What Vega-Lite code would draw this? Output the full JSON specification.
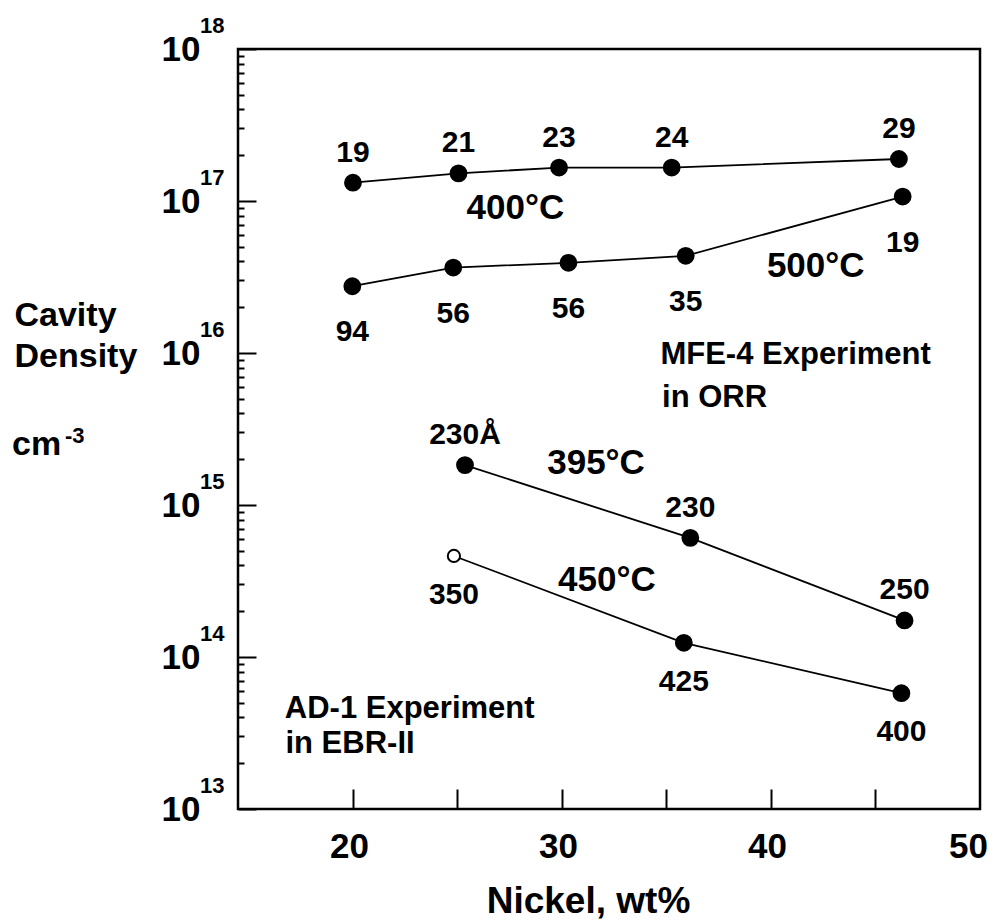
{
  "$schema": "https://vega.github.io/schema/vega-lite/v6.json",
  "width": 742,
  "height": 760,
  "autosize": {"type": "none"},
  "padding": {"left": 238, "top": 49, "right": 12, "bottom": 115},
  "background": "white",
  "config": {
    "view": {"stroke": "black", "strokeWidth": 2.5},
    "font": "Liberation Sans",
    "text": {"font": "Liberation Sans", "fontWeight": "bold", "color": "black"}
  },
  "datasets": {
    "points": [
      {"series": "400C", "ni": 20.00, "dens": 1.32e17, "label": "19", "lpos": "above", "hollow": false},
      {"series": "400C", "ni": 25.05, "dens": 1.52e17, "label": "21", "lpos": "above", "hollow": false},
      {"series": "400C", "ni": 29.86, "dens": 1.66e17, "label": "23", "lpos": "above", "hollow": false},
      {"series": "400C", "ni": 35.25, "dens": 1.66e17, "label": "24", "lpos": "above", "hollow": false},
      {"series": "400C", "ni": 46.12, "dens": 1.89e17, "label": "29", "lpos": "above", "hollow": false},
      {"series": "500C", "ni": 19.97, "dens": 2.75e16, "label": "94", "lpos": "below", "hollow": false},
      {"series": "500C", "ni": 24.80, "dens": 3.65e16, "label": "56", "lpos": "below", "hollow": false},
      {"series": "500C", "ni": 30.31, "dens": 3.92e16, "label": "56", "lpos": "below", "hollow": false},
      {"series": "500C", "ni": 35.92, "dens": 4.36e16, "label": "35", "lpos": "below", "hollow": false},
      {"series": "500C", "ni": 46.30, "dens": 1.07e17, "label": "19", "lpos": "below", "hollow": false},
      {"series": "395C", "ni": 25.36, "dens": 1.83e15, "label": "230Å", "lpos": "above", "hollow": false},
      {"series": "395C", "ni": 36.14, "dens": 6.08e14, "label": "230", "lpos": "above", "hollow": false},
      {"series": "395C", "ni": 46.39, "dens": 1.74e14, "label": "250", "lpos": "above", "hollow": false},
      {"series": "450C", "ni": 24.83, "dens": 4.62e14, "label": "350", "lpos": "below2", "hollow": true},
      {"series": "450C", "ni": 35.83, "dens": 1.24e14, "label": "425", "lpos": "below2", "hollow": false},
      {"series": "450C", "ni": 46.24, "dens": 5.78e13, "label": "400", "lpos": "below2", "hollow": false}
    ],
    "notes": [
      {"kind": "temp", "ni": 27.77, "dens": 8.93e16, "t": "400°C"},
      {"kind": "temp", "ni": 42.14, "dens": 3.72e16, "t": "500°C"},
      {"kind": "temp", "ni": 31.63, "dens": 1.88e15, "t": "395°C"},
      {"kind": "temp", "ni": 32.15, "dens": 3.21e14, "t": "450°C"},
      {"kind": "exp", "ni": 34.71, "dens": 8.47e15, "t": "MFE-4 Experiment"},
      {"kind": "exp", "ni": 34.79, "dens": 4.42e15, "t": "in ORR"},
      {"kind": "exp", "ni": 16.74, "dens": 3.99e13, "t": "AD-1 Experiment"},
      {"kind": "exp", "ni": 16.77, "dens": 2.34e13, "t": "in EBR-II"}
    ],
    "decades": [
      {"dens": 1e13, "e": "13"},
      {"dens": 1e14, "e": "14"},
      {"dens": 1e15, "e": "15"},
      {"dens": 1e16, "e": "16"},
      {"dens": 1e17, "e": "17"},
      {"dens": 1e18, "e": "18"}
    ]
  },
  "layer": [
    {
      "encoding": {
        "x": {
          "field": "ni",
          "type": "quantitative",
          "scale": {"domain": [14.5, 50], "nice": false, "zero": false},
          "axis": {
            "values": [20, 25, 30, 35, 40, 45, 50],
            "domain": false,
            "grid": false,
            "tickSize": -20,
            "tickWidth": 2,
            "tickColor": "black",
            "tickOpacity": {"condition": {"test": "datum.value == 50", "value": 0}, "value": 1},
            "labelExpr": "datum.value % 10 == 0 ? datum.label : ''",
            "labelFont": "Liberation Sans",
            "labelFontSize": 35,
            "labelFontWeight": "bold",
            "labelColor": "black",
            "labelBaseline": "top",
            "labelPadding": 40,
            "labelOffset": {"condition": {"test": "datum.value == 50", "value": -12}, "value": -4},
            "labelFlush": false,
            "labelBound": false,
            "labelOverlap": false,
            "title": "Nickel, wt%",
            "titleFont": "Liberation Sans",
            "titleFontSize": 37,
            "titleFontWeight": "bold",
            "titleColor": "black",
            "titleX": 350,
            "titleY": 103,
            "titleBaseline": "alphabetic",
            "titleAlign": "center"
          }
        },
        "y": {
          "field": "dens",
          "type": "quantitative",
          "scale": {"type": "log", "domain": [1e13, 1e18], "nice": false},
          "axis": {
            "values": [1e13, 2e13, 3e13, 4e13, 5e13, 6e13, 7e13, 8e13, 9e13,
                       1e14, 2e14, 3e14, 4e14, 5e14, 6e14, 7e14, 8e14, 9e14,
                       1e15, 2e15, 3e15, 4e15, 5e15, 6e15, 7e15, 8e15, 9e15,
                       1e16, 2e16, 3e16, 4e16, 5e16, 6e16, 7e16, 8e16, 9e16,
                       1e17, 2e17, 3e17, 4e17, 5e17, 6e17, 7e17, 8e17, 9e17, 1e18],
            "domain": false,
            "grid": false,
            "tickSize": {"condition": {"test": "abs(log(datum.value)/LN10 - round(log(datum.value)/LN10)) < 0.001", "value": -18}, "value": -6},
            "tickWidth": 2,
            "tickColor": "black",
            "labelExpr": "abs(log(datum.value)/LN10 - round(log(datum.value)/LN10)) < 0.001 ? '10' : ''",
            "labelFont": "Liberation Sans",
            "labelFontSize": 35,
            "labelFontWeight": "bold",
            "labelColor": "black",
            "labelBaseline": "middle",
            "labelAlign": "right",
            "labelPadding": 56,
            "labelOverlap": false,
            "labelBound": false,
            "labelFlush": false,
            "title": ["Cavity", "Density"],
            "titleFont": "Liberation Sans",
            "titleFontSize": 34,
            "titleFontWeight": "bold",
            "titleColor": "black",
            "titleAngle": 0,
            "titleAlign": "left",
            "titleBaseline": "top",
            "titleLineHeight": 41,
            "titleX": -224,
            "titleY": 249
          }
        }
      },
      "layer": [
        {
          "data": {"name": "points"},
          "mark": {"type": "line", "color": "black", "strokeWidth": 1.8},
          "encoding": {"detail": {"field": "series"}, "order": {"field": "ni"}}
        },
        {
          "data": {"name": "points"},
          "mark": {"type": "point", "shape": "circle", "filled": true, "stroke": "black", "strokeWidth": 2, "opacity": 1},
          "encoding": {
            "fill": {"condition": {"test": "datum.hollow", "value": "white"}, "value": "black"},
            "size": {"condition": {"test": "datum.hollow", "value": 150}, "value": 250}
          }
        },
        {
          "data": {"name": "points"},
          "transform": [{"filter": "datum.lpos == 'above'"}],
          "mark": {"type": "text", "fontSize": 30, "fontWeight": "bold", "align": "center", "baseline": "alphabetic", "dy": -21},
          "encoding": {"text": {"field": "label"}}
        },
        {
          "data": {"name": "points"},
          "transform": [{"filter": "datum.lpos == 'below'"}],
          "mark": {"type": "text", "fontSize": 30, "fontWeight": "bold", "align": "center", "baseline": "alphabetic", "dy": 55},
          "encoding": {"text": {"field": "label"}}
        },
        {
          "data": {"name": "points"},
          "transform": [{"filter": "datum.lpos == 'below2'"}],
          "mark": {"type": "text", "fontSize": 30, "fontWeight": "bold", "align": "center", "baseline": "alphabetic", "dy": 48},
          "encoding": {"text": {"field": "label"}}
        },
        {
          "data": {"name": "notes"},
          "transform": [{"filter": "datum.kind == 'temp'"}],
          "mark": {"type": "text", "fontSize": 35, "fontWeight": "bold", "align": "center", "baseline": "middle"},
          "encoding": {"text": {"field": "t"}}
        },
        {
          "data": {"name": "notes"},
          "transform": [{"filter": "datum.kind == 'exp'"}],
          "mark": {"type": "text", "fontSize": 31, "fontWeight": "bold", "align": "left", "baseline": "alphabetic"},
          "encoding": {"text": {"field": "t"}}
        }
      ]
    },
    {
      "data": {"name": "decades"},
      "mark": {"type": "text", "fontSize": 22, "fontWeight": "bold", "align": "left", "baseline": "alphabetic", "dx": -38, "dy": -16},
      "encoding": {
        "x": {"datum": 14.5, "type": "quantitative"},
        "y": {"field": "dens", "type": "quantitative"},
        "text": {"field": "e", "type": "nominal"}
      }
    },
    {
      "data": {"values": [{"t": "cm"}]},
      "mark": {"type": "text", "fontSize": 34, "fontWeight": "bold", "align": "left", "baseline": "alphabetic", "dx": -226},
      "encoding": {
        "x": {"datum": 14.5, "type": "quantitative"},
        "y": {"datum": 2.13e15, "type": "quantitative"},
        "text": {"field": "t", "type": "nominal"}
      }
    },
    {
      "data": {"values": [{"t": "-3"}]},
      "mark": {"type": "text", "fontSize": 22, "fontWeight": "bold", "align": "left", "baseline": "alphabetic", "dx": -173, "dy": -12},
      "encoding": {
        "x": {"datum": 14.5, "type": "quantitative"},
        "y": {"datum": 2.13e15, "type": "quantitative"},
        "text": {"field": "t", "type": "nominal"}
      }
    }
  ]
}
